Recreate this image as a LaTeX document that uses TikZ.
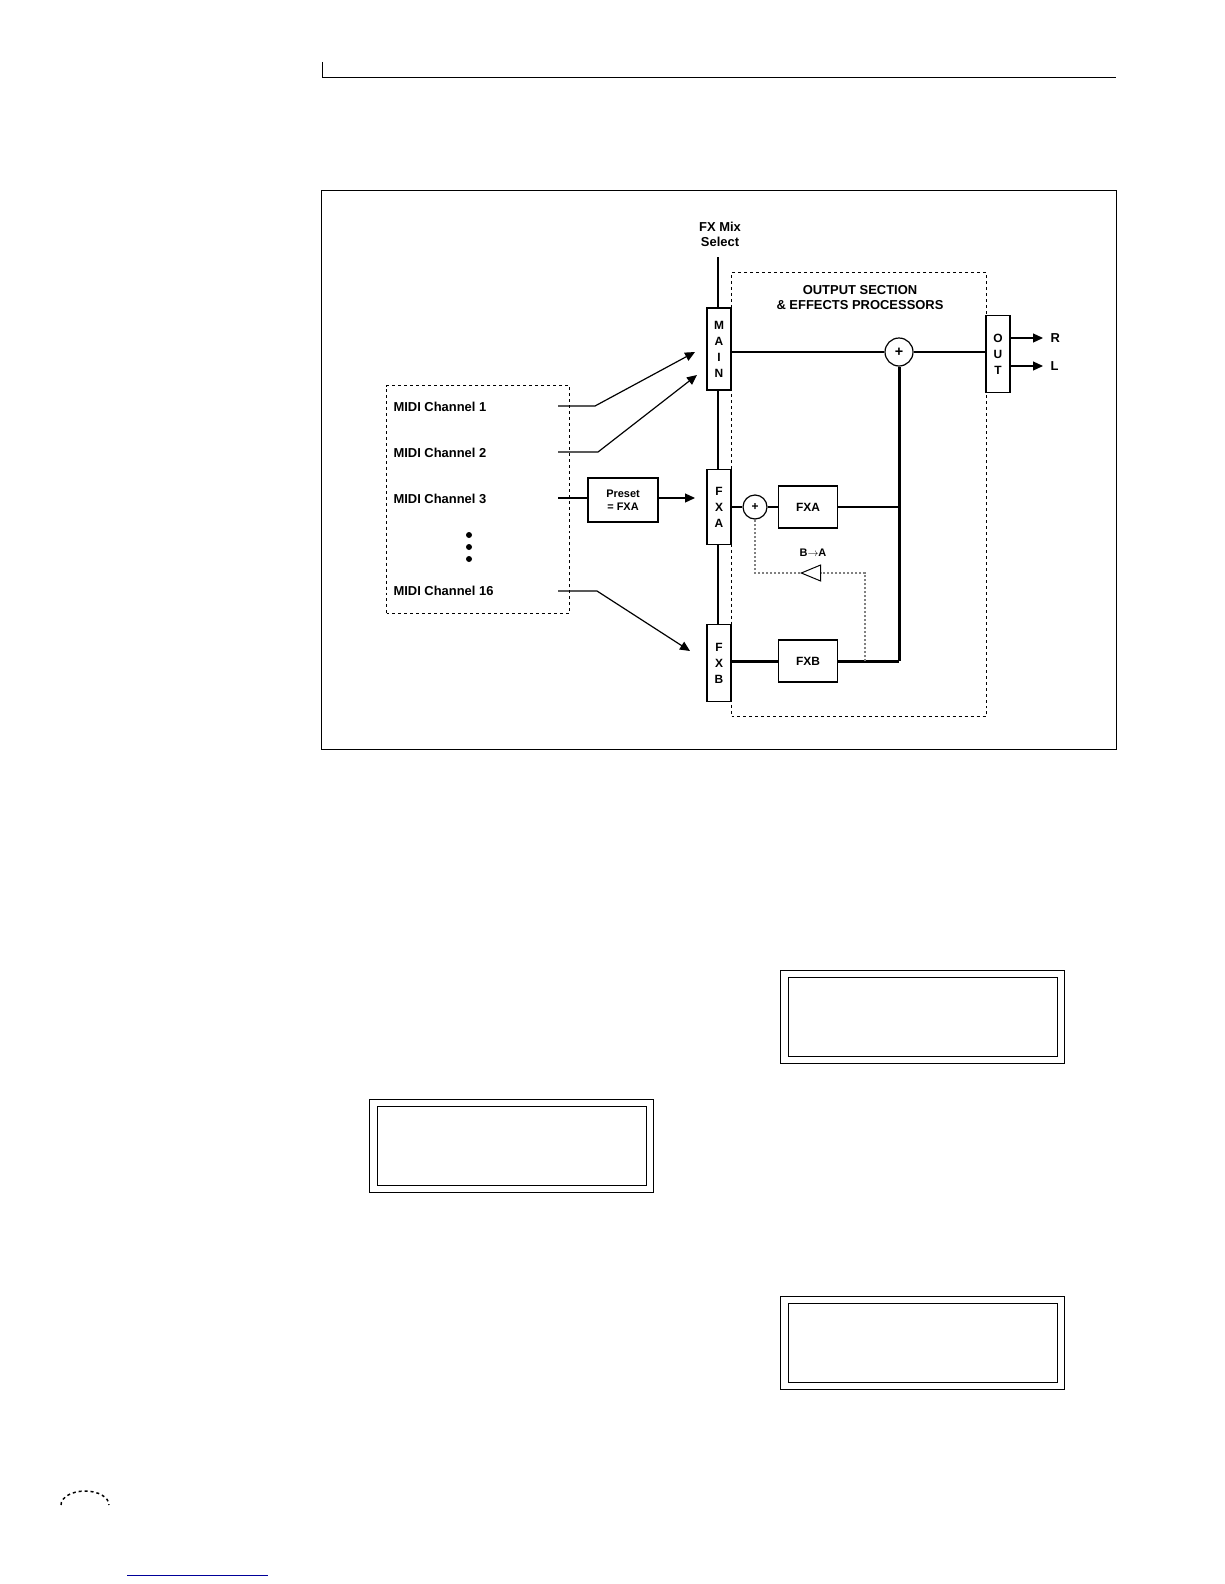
\documentclass[tikz,border=0pt]{standalone}
\usepackage{fontspec}
\setmainfont{Liberation Sans}
\usetikzlibrary{arrows.meta,shapes.geometric}
\tikzset{
 thin line/.style={line width=1.2pt},
 bus/.style={line width=3pt},
 arr/.style={line width=1.2pt,-{Triangle[length=10pt,width=9pt]}},
 vbox/.style={draw,line width=1.3pt,fill=white,minimum width=24bp,align=center,inner sep=1pt,font=\bfseries\fontsize{12}{16}\selectfont},
 fxbox/.style={draw,line width=1.3pt,fill=white,minimum width=59bp,minimum height=42bp,font=\bfseries\fontsize{12}{14}\selectfont},
 lbl/.style={font=\bfseries\fontsize{13}{15}\selectfont},
 sum/.style={circle,draw,line width=1.2pt,fill=white,inner sep=0pt},
 fb/.style={draw=gray,line width=2pt,dotted},
 dbl/.style={draw,line width=1pt}
}
\begin{document}
\begin{tikzpicture}[x=1bp,y=-1bp]
\useasboundingbox (0,0) rectangle (1224,1584);
% header
\draw[line width=1pt] (322,62) -- (322,77) -- (1116,77);
\node[draw,line width=1pt,minimum width=795bp,minimum height=559bp,anchor=north west,inner sep=0pt] (frame) at (321,190) {};
% left dashed box
\node[draw,dashed,line width=1pt,minimum width=183bp,minimum height=228bp,anchor=north west,inner sep=0pt] (midi) at (386,385) {};
\node[lbl,anchor=west] (c1) at (390,407) {MIDI Channel 1};
\node[lbl,anchor=west] (c2) at (390,453) {MIDI Channel 2};
\node[lbl,anchor=west] (c3) at (390,499) {MIDI Channel 3};
\node[lbl,anchor=west] (c16) at (390,591) {MIDI Channel 16};
\foreach \y in {535,547,559} \fill (469,\y) circle (3bp);
% output dashed box
\node[draw,dashed,line width=1pt,minimum width=255bp,minimum height=444bp,anchor=north west,inner sep=0pt] (outsec) at (731,272) {};
\node[lbl,align=center] (outt) at (860,298) {OUTPUT SECTION\\\& EFFECTS PROCESSORS};
\node[lbl,align=center] (fxmix) at (720,234) {FX Mix\\Select};
% bus
\coordinate (bt) at (718,257);
\coordinate (bb) at (718,700);
\draw[line width=2.5pt] (bt) -- (bb);
\node[vbox,minimum height=82bp] (main) at (719,349) {M\\A\\I\\N};
\node[vbox,minimum height=75bp] (fxa) at (719,507) {F\\X\\A};
\node[vbox,minimum height=77bp] (fxb) at (719,663) {F\\X\\B};
\node[vbox,minimum height=77bp] (out) at (998,354) {O\\U\\T};
% sums
\node[sum,minimum size=28bp,font=\bfseries\Large] (s1) at (899,352) {+};
\node[sum,minimum size=24bp,font=\bfseries\large] (s2) at (755,507) {+};
\node[fxbox] (bfxa) at (808,507) {FXA};
\node[fxbox] (bfxb) at (808,661) {FXB};
% main lines
\draw[bus] (main.east |- s1) -- (s1);
\draw[bus] (s1) -- (out.west |- s1);
\coordinate (j1) at (899,507);
\coordinate (j2) at (899,661);
\draw[bus] (s1) -- (j2);
\draw[bus] (bfxa) -- (j1);
\draw[bus] (bfxb) -- (j2);
\draw[bus] (fxa.east |- s2) -- (s2);
\draw[bus] (s2) -- (bfxa);
\draw[bus] (fxb.east |- bfxb) -- (bfxb);
% outputs
\coordinate (oR) at (1043,338); \coordinate (oL) at (1043,366);
\draw[arr] (out.east |- oR) -- (oR);
\draw[arr] (out.east |- oL) -- (oL);
\node[lbl,anchor=west] (lr) at (1047,338) {R};
\node[lbl,anchor=west] (ll) at (1047,366) {L};
% feedback
\coordinate (f1) at (865,661); \coordinate (f2) at (865,573);
\coordinate (f3) at (755,573);
\node[draw,isosceles triangle,shape border rotate=180,line width=1pt,fill=white,minimum height=16bp,minimum width=16bp,inner sep=0pt,anchor=apex] (tri) at (800,573) {};
\draw[fb] (f1) -- (f2) -- (tri.east);
\draw[fb] (tri.apex) -- (f3) -- (s2.south);
\node[lbl,font=\bfseries\fontsize{11}{13}\selectfont] (ba) at (813,553) {B$\rightarrow$A};
% inputs
\coordinate (k1) at (595,406); \coordinate (a1) at (695,352);
\coordinate (k2) at (598,452); \coordinate (a2) at (697,375);
\coordinate (k16) at (597,591); \coordinate (a16) at (690,651);
\coordinate (e1) at (558,406); \coordinate (e2) at (558,452); \coordinate (e3) at (558,498); \coordinate (e16) at (558,591);
\draw[arr] (e1) -- (k1) -- (a1);
\draw[arr] (e2) -- (k2) -- (a2);
\draw[arr] (e16) -- (k16) -- (a16);
\node[draw,line width=1.2pt,minimum width=70bp,minimum height=44bp,align=center,font=\bfseries\fontsize{11}{13}\selectfont] (pre) at (623,500) {Preset\\= FXA};
\coordinate (a3) at (695,498);
\draw[thin line] (e3) -- (pre.west |- e3);
\draw[arr] (pre.east |- a3) -- (a3);
% lower boxes
\foreach \n/\x/\y in {d1/780/970,d2/369/1099,d3/780/1296}{
 \node[dbl,minimum width=284bp,minimum height=93bp,anchor=north west,inner sep=0pt] (\n) at (\x,\y) {};
 \node[dbl,minimum width=269bp,minimum height=79bp,inner sep=0pt] (\n i) at (\n.center) {};
}
% bottom marks
\draw[dashed,line width=1.5pt] (61,1505) arc (180:360:24 and 14);
\draw[blue!60!black,line width=1pt] (127,1575) -- (268,1575);
\end{tikzpicture}
\end{document}
